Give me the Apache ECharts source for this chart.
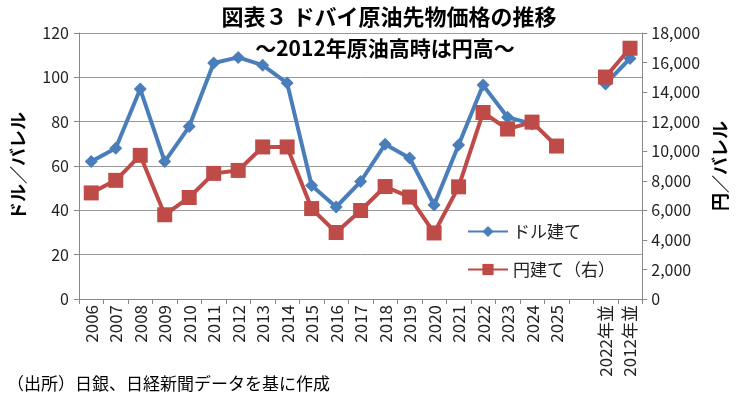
<!DOCTYPE html>
<html>
<head>
<meta charset="utf-8">
<script src="https://cdn.jsdelivr.net/npm/echarts@6/dist/echarts.min.js"></script>
<style>html,body{margin:0;padding:0;background:#fff;}#c{width:737px;height:398px;}</style>
</head>
<body>
<div id="c"></div>
<script>
var categories = ['2006','2007','2008','2009','2010','2011','2012','2013','2014','2015','2016','2017','2018','2019','2020','2021','2022','2023','2024','2025','','2022年並','2012年並'];
var usdValues = [62,68,94.7,62,77.8,106.5,109,105.5,97.4,51.2,41.5,53,69.8,63.6,42.4,69.5,96.5,82,79,null,null,97,108.5];
var jpyValues = [7180,8030,9720,5700,6870,8500,8700,10290,10290,6120,4500,5990,7610,6900,4470,7590,12620,11500,11970,10350,null,15020,16970];
var leftTicks = [0,20,40,60,80,100,120];
var rightTicks = [0,2000,4000,6000,8000,10000,12000,14000,16000,18000];

var FONT = '"Noto Sans CJK JP", sans-serif';
var chart = echarts.init(document.getElementById('c'), null, {renderer:'canvas'});
chart.setOption({
  backgroundColor:'#fff',
  animation:false,
  textStyle:{fontFamily:FONT},
  title:[
    {text:'図表３ ドバイ原油先物価格の推移', left:384, top:1, textAlign:'center',
     textStyle:{fontFamily:FONT, fontSize:22, fontWeight:'bold', color:'#000'}},
    {text:'～2012年原油高時は円高～', left:380, top:33, textAlign:'center',
     textStyle:{fontFamily:FONT, fontSize:21, fontWeight:'bold', color:'#000'}},
    {text:'（出所）日銀、日経新聞データを基に作成', left:2, top:370,
     textStyle:{fontFamily:FONT, fontSize:17, fontWeight:'normal', color:'#000'}}
  ],
  grid:{left:79, right:92, top:33, bottom:99, containLabel:false},
  legend:{
    orient:'vertical', left:462, top:218, itemWidth:40, itemHeight:14, itemGap:21,
    textStyle:{fontFamily:FONT, fontSize:17, color:'#222'},
    data:['ドル建て','円建て（右）']
  },
  xAxis:{
    type:'category', data:categories, boundaryGap:true,
    axisLine:{lineStyle:{color:'#888', width:1}},
    axisTick:{show:true, interval:0, length:5, lineStyle:{color:'#888'}},
    axisLabel:{interval:0, rotate:90, fontFamily:FONT, fontSize:17, color:'#222', margin:6},
    splitLine:{show:false}
  },
  yAxis:[
    {type:'value', min:0, max:120, interval:20, position:'left',
     name:'ドル／バレル', nameLocation:'middle', nameRotate:90, nameGap:52,
     nameTextStyle:{fontFamily:FONT, fontSize:18, fontWeight:'bold', color:'#000'},
     axisLine:{show:true, lineStyle:{color:'#888'}},
     axisTick:{show:true, length:5, lineStyle:{color:'#888'}},
     axisLabel:{fontFamily:FONT, fontSize:16, color:'#222', margin:10},
     splitLine:{show:true, lineStyle:{color:'#999', width:1}}},
    {type:'value', min:0, max:18000, interval:2000, position:'right',
     name:'円／バレル', nameLocation:'middle', nameRotate:90, nameGap:62,
     nameTextStyle:{fontFamily:FONT, fontSize:18, fontWeight:'bold', color:'#000'},
     axisLine:{show:true, lineStyle:{color:'#888'}},
     axisTick:{show:true, length:5, lineStyle:{color:'#888'}},
     axisLabel:{fontFamily:FONT, fontSize:16, color:'#222', margin:9,
       formatter:function(v){return v.toLocaleString('en-US');}},
     splitLine:{show:false}}
  ],
  series:[
    {name:'ドル建て', type:'line', yAxisIndex:0, data:usdValues, connectNulls:false,
     symbol:'diamond', symbolSize:13,
     lineStyle:{color:'#4A7EBB', width:4}, itemStyle:{color:'#4A7EBB'}},
    {name:'円建て（右）', type:'line', yAxisIndex:1, data:jpyValues, connectNulls:false,
     symbol:'rect', symbolSize:15,
     lineStyle:{color:'#BE4B48', width:4}, itemStyle:{color:'#BE4B48'}}
  ]
});
</script>
</body>
</html>
